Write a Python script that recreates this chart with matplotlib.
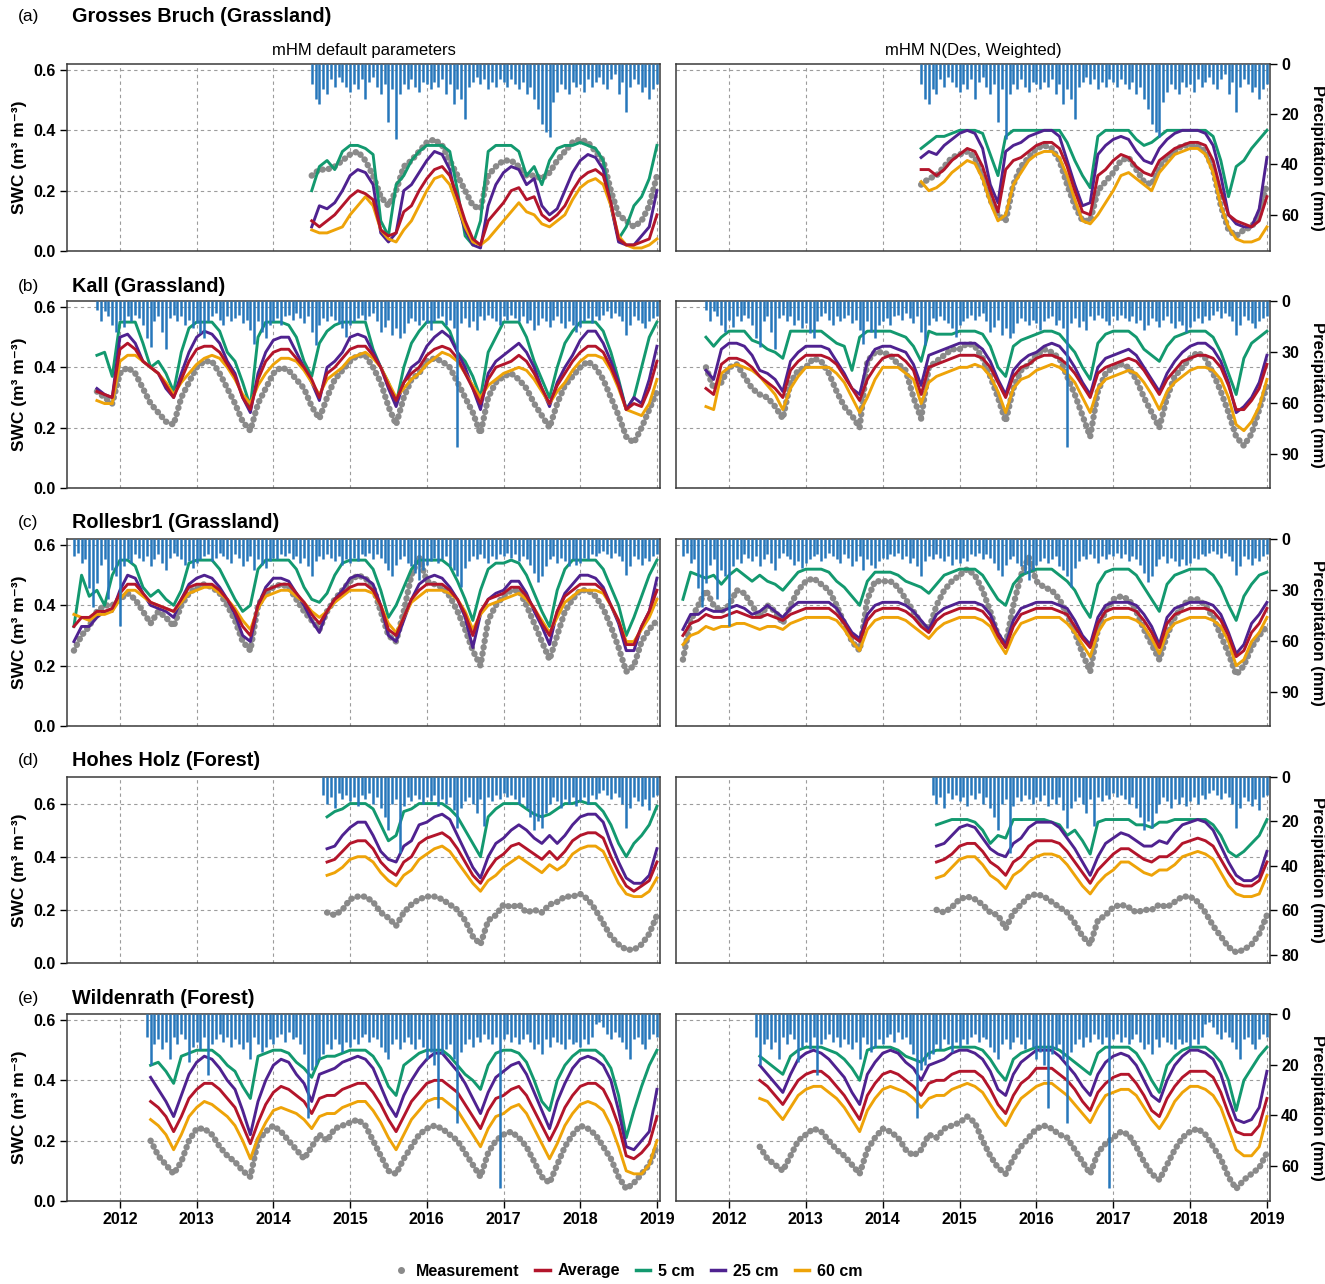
import numpy as np
import matplotlib
matplotlib.use("Agg")
import matplotlib.pyplot as plt
from matplotlib.lines import Line2D
from matplotlib.ticker import FormatStrFormatter
from matplotlib import font_manager as fm

# ------------------------------------------------------------------ DATA
# common x (decimal years); model/measurement series sampled every 0.1 yr,
# precipitation every 0.05 yr, starting at the given start year.
year_ticks = [2012, 2013, 2014, 2015, 2016, 2017, 2018, 2019]
col_titles = ["mHM default parameters", "mHM N(Des, Weighted)"]
row_tags = ["(a)", "(b)", "(c)", "(d)", "(e)"]
row_titles = ["Grosses Bruch (Grassland)", "Kall (Grassland)", "Rollesbr1 (Grassland)",
              "Hohes Holz (Forest)", "Wildenrath (Forest)"]
legend_labels = ["Measurement", "Average", "5 cm", "25 cm", "60 cm"]

# ---- (a) Grosses Bruch, series start 2014.5
a_start = 2014.5
aL_meas = [.25,.27,.27,.28,.30, .32,.33,.30,.25,.18,.15,.20,.28,.30,.33, .36,.37,.35,.30,.25,.20,.15,.14,.25,.28,
           .30,.30,.28,.25,.25,.24,.26,.30,.33,.36, .37,.36,.33,.30,.20,.12,.10,.08,.10,.15, .25]
aL_5 = [.20,.28,.30,.27,.33, .35,.35,.34,.32,.10,.05,.22,.25,.30,.33, .35,.35,.35,.33,.20,.05,.02,.10,.33,.35,
        .35,.35,.33,.25,.28,.22,.30,.34,.35,.35, .36,.35,.34,.30,.15,.04,.08,.15,.18,.24, .35]
aL_25 = [.08,.15,.14,.16,.20, .25,.27,.26,.22,.06,.03,.06,.20,.22,.26, .30,.33,.32,.27,.15,.07,.02,.01,.15,.22,
         .26,.28,.27,.22,.24,.15,.12,.14,.20,.26, .30,.32,.31,.27,.15,.03,.02,.02,.05,.08, .20]
aL_avg = [.10,.08,.10,.12,.15, .18,.20,.19,.17,.07,.05,.06,.13,.15,.20, .24,.27,.28,.25,.18,.10,.04,.02,.10,.13,
          .16,.20,.21,.17,.18,.12,.10,.12,.15,.20, .24,.26,.27,.25,.16,.04,.02,.02,.03,.04, .12]
aL_60 = [.07,.06,.06,.07,.08, .12,.15,.18,.15,.07,.04,.03,.07,.10,.15, .20,.24,.25,.22,.15,.08,.03,.02,.04,.07,
         .10,.13,.16,.13,.12,.09,.08,.10,.12,.17, .21,.23,.24,.22,.15,.05,.02,.01,.01,.02, .04]
aR_meas = [.22,.24,.25,.28,.31, .32,.33,.31,.25,.17,.12,.10,.22,.28,.31, .34,.35,.34,.30,.22,.15,.10,.10,.20,.23,
           .26,.30,.31,.27,.23,.22,.28,.31,.33,.35, .35,.35,.33,.27,.15,.07,.05,.07,.08,.12, .22]
aR_5 = [.34,.36,.38,.38,.39, .40,.40,.40,.39,.32,.25,.38,.40,.40,.40, .40,.40,.40,.40,.36,.30,.25,.21,.38,.40,
        .40,.40,.40,.37,.35,.36,.38,.40,.40,.40, .40,.40,.40,.38,.30,.18,.28,.30,.34,.37, .40]
aR_25 = [.31,.33,.32,.35,.37, .39,.40,.39,.34,.22,.16,.33,.35,.36,.38, .39,.40,.40,.38,.30,.22,.15,.16,.32,.35,
         .37,.38,.37,.33,.30,.29,.34,.37,.39,.40, .40,.40,.39,.35,.25,.12,.09,.08,.08,.14, .31]
aR_avg = [.27,.27,.25,.27,.30, .32,.34,.33,.28,.20,.13,.27,.30,.31,.33, .35,.36,.36,.34,.28,.20,.13,.12,.25,.27,
          .30,.32,.31,.28,.26,.25,.30,.32,.34,.35, .36,.36,.35,.30,.20,.12,.10,.09,.08,.10, .18]
aR_60 = [.23,.20,.21,.23,.26, .28,.30,.29,.24,.16,.10,.12,.22,.26,.30, .32,.33,.33,.31,.25,.17,.10,.09,.12,.16,
         .20,.25,.26,.24,.22,.20,.26,.29,.32,.33, .34,.34,.32,.26,.15,.08,.04,.03,.03,.04, .08]
a_pstart = 2014.5
a_precip = [8,14,16,10,12,6,9,5,7,9,
            11,8,10,6,14,7,5,9,12,8,23,10,30,12,8,10,6,9,11,7,
            8,10,7,9,6,12,8,16,10,14,22,9,7,5,8,6,10,7,9,6,
            7,9,6,8,10,7,12,9,14,18,24,27,29,15,11,8,10,12,7,9,
            8,11,6,9,7,5,8,10,6,4,12,7,19,9,6,8,11,9,14,10,
            8]

# ---- (b) Kall, series start 2011.7
b_start = 2011.7
bL_meas = [.32,.30,.28, .38,.40,.38,.33,.28,.25,.22,.21,.30,.35, .40,.42,.42,.38,.33,.28,.22,.19,.28,.33,
           .38,.40,.39,.36,.33,.27,.23,.30,.36,.39, .42,.44,.44,.40,.35,.27,.21,.30,.36,.38,
           .42,.43,.42,.40,.35,.30,.25,.18,.30,.35, .37,.38,.36,.33,.28,.24,.20,.28,.34,.37,
           .40,.42,.40,.36,.30,.24,.17,.15,.20,.26, .32]
bL_5 = [.44,.45,.37, .55,.55,.55,.48,.40,.42,.38,.32,.45,.53, .55,.55,.55,.52,.45,.42,.35,.27,.50,.55,
        .55,.55,.54,.50,.42,.37,.48,.52,.54,.55, .55,.55,.55,.46,.40,.35,.28,.40,.48,.52,
        .55,.55,.55,.52,.45,.42,.37,.30,.45,.50, .55,.55,.55,.50,.42,.36,.30,.40,.48,.52,
        .55,.55,.55,.52,.45,.36,.26,.30,.40,.50, .55]
bL_25 = [.33,.31,.30, .50,.51,.48,.42,.40,.38,.33,.30,.38,.45, .50,.52,.51,.48,.42,.38,.30,.25,.38,.45,
         .49,.50,.50,.45,.40,.35,.29,.40,.42,.45, .50,.51,.50,.45,.40,.33,.27,.35,.40,.42,
         .47,.50,.52,.50,.45,.40,.33,.26,.38,.42, .44,.46,.48,.45,.40,.33,.27,.35,.40,.44,
         .49,.52,.52,.48,.42,.35,.26,.30,.28,.36, .47]
bL_avg = [.32,.31,.30, .46,.48,.46,.42,.40,.38,.34,.30,.36,.42, .46,.47,.47,.45,.41,.37,.30,.26,.36,.42,
          .45,.46,.46,.43,.40,.36,.30,.38,.40,.43, .46,.47,.47,.44,.40,.34,.29,.35,.38,.40,
          .44,.46,.47,.46,.43,.38,.33,.28,.36,.40, .41,.42,.44,.42,.38,.33,.28,.34,.38,.42,
          .45,.47,.47,.45,.40,.34,.26,.28,.27,.33, .42]
bL_60 = [.29,.28,.28, .42,.44,.44,.42,.40,.38,.35,.31,.35,.38, .41,.43,.44,.43,.40,.36,.31,.28,.34,.38,
         .41,.43,.43,.42,.39,.35,.31,.36,.38,.40, .43,.44,.45,.43,.40,.35,.30,.33,.36,.38,
         .41,.43,.45,.44,.42,.38,.34,.30,.34,.36, .38,.39,.40,.39,.36,.32,.28,.32,.35,.39,
         .42,.44,.44,.43,.39,.33,.26,.25,.24,.28, .36]
bR_meas = [.40,.33,.35, .40,.41,.37,.33,.31,.30,.27,.23,.35,.39, .40,.43,.42,.38,.32,.27,.24,.20,.42,.45,
           .45,.44,.41,.39,.30,.23,.40,.42,.44,.46, .46,.48,.47,.43,.37,.30,.22,.33,.39,.41,
           .44,.46,.45,.43,.37,.31,.24,.17,.32,.38, .40,.41,.40,.36,.30,.25,.20,.30,.37,.40,
           .43,.45,.43,.38,.32,.25,.17,.14,.18,.26, .34]
bR_5 = [.50,.47,.50, .52,.52,.52,.49,.48,.46,.45,.43,.52,.52, .52,.52,.52,.50,.48,.47,.39,.50,.52,.52,
        .52,.52,.51,.50,.47,.42,.52,.51,.51,.51, .52,.52,.52,.51,.47,.40,.37,.47,.49,.50,
        .51,.52,.52,.51,.48,.45,.40,.36,.48,.51, .52,.52,.52,.50,.46,.44,.42,.47,.50,.51,
        .52,.52,.52,.50,.45,.38,.31,.43,.48,.50, .52]
bR_25 = [.39,.36,.46, .48,.48,.47,.44,.39,.38,.36,.32,.42,.45, .47,.47,.47,.46,.42,.38,.33,.31,.42,.46,
         .47,.47,.46,.45,.41,.34,.44,.45,.46,.47, .48,.48,.48,.46,.42,.36,.31,.39,.42,.44,
         .45,.47,.48,.47,.44,.40,.35,.31,.40,.43, .44,.45,.46,.44,.40,.36,.32,.38,.42,.45,
         .47,.48,.48,.46,.42,.35,.25,.27,.30,.35, .44]
bR_avg = [.33,.31,.41, .43,.43,.42,.40,.37,.35,.33,.30,.39,.42, .44,.44,.44,.43,.41,.37,.33,.29,.36,.40,
          .43,.44,.44,.42,.39,.31,.40,.41,.42,.43, .44,.44,.44,.43,.40,.35,.30,.37,.40,.41,
          .43,.44,.44,.43,.41,.38,.34,.30,.38,.40, .41,.42,.43,.42,.39,.35,.31,.36,.39,.42,
          .43,.44,.44,.43,.40,.34,.26,.26,.29,.33, .41]
bR_60 = [.27,.26,.38, .40,.41,.40,.39,.37,.34,.31,.26,.33,.37, .40,.40,.40,.40,.38,.35,.30,.25,.30,.36,
         .40,.40,.40,.38,.36,.28,.35,.37,.38,.39, .40,.40,.41,.40,.37,.32,.25,.33,.36,.37,
         .39,.40,.41,.40,.38,.35,.30,.25,.33,.36, .37,.38,.39,.38,.35,.31,.26,.32,.35,.37,
         .39,.40,.40,.39,.36,.30,.21,.19,.22,.27, .36]
b_pstart = 2011.7
b_precip = [5,12,6,9,14,18,
            11,15,9,12,8,10,14,22,27,12,9,18,28,10,8,12,9,14,11,16,
            13,19,22,12,9,7,11,14,9,12,10,8,13,11,17,25,12,18,22,14,
            12,10,14,9,8,11,7,10,13,9,18,26,14,10,12,9,11,13,16,21,
            14,12,10,8,11,9,7,12,18,15,11,20,16,22,19,13,10,12,14,11,
            13,17,12,10,9,14,11,16,86,13,10,15,12,17,9,11,8,10,12,14,
            9,11,8,10,12,9,13,11,17,14,10,12,15,11,9,13,16,12,14,18,
            15,12,10,13,9,11,8,6,10,7,9,12,20,14,9,11,13,16,12,10,
            9]

# ---- (c) Rollesbr1, series start 2011.4
c_start = 2011.4
cL_meas = [.25,.30,.33,.38,.40,.40, .42,.44,.42,.38,.34,.38,.36,.33,.40,.44, .46,.47,.46,.44,.40,.35,.28,.25,.40,.44,
           .46,.47,.46,.42,.38,.35,.32,.38,.42,.45, .48,.50,.49,.46,.38,.30,.28,.38,.50,.56,
           .48,.47,.46,.43,.38,.32,.25,.20,.35,.40, .43,.45,.45,.40,.34,.28,.22,.30,.38,.42,
           .45,.45,.43,.39,.33,.26,.18,.20,.28,.32, .35]
cL_5 = [.33,.50,.43,.45,.40,.50, .55,.55,.53,.46,.43,.45,.42,.40,.45,.54, .55,.55,.55,.52,.47,.42,.38,.40,.52,.55,
        .55,.55,.55,.52,.46,.42,.41,.44,.50,.54, .55,.55,.55,.52,.45,.36,.40,.46,.52,.55,
        .55,.55,.55,.53,.48,.42,.35,.45,.52,.54, .54,.55,.54,.50,.44,.38,.33,.45,.52,.55,
        .55,.55,.55,.52,.46,.40,.30,.36,.43,.50, .55]
cL_25 = [.28,.33,.33,.36,.38,.38, .45,.50,.49,.44,.40,.39,.38,.36,.42,.47, .49,.50,.49,.46,.42,.37,.30,.28,.40,.46,
         .49,.49,.48,.44,.40,.35,.31,.38,.42,.45, .49,.50,.49,.47,.40,.30,.28,.35,.42,.47,
         .49,.50,.49,.46,.42,.36,.26,.37,.42,.44, .45,.48,.48,.44,.38,.33,.27,.38,.44,.47,
         .50,.50,.49,.46,.40,.34,.25,.25,.33,.38, .49]
cL_avg = [.33,.36,.36,.38,.38,.39, .44,.47,.47,.44,.41,.40,.39,.38,.42,.46, .47,.47,.47,.45,.42,.38,.33,.30,.40,.45,
          .46,.47,.47,.44,.41,.37,.34,.38,.42,.44, .46,.47,.47,.45,.40,.32,.30,.36,.42,.45,
          .47,.47,.47,.45,.42,.37,.30,.38,.42,.43, .44,.46,.46,.43,.39,.34,.30,.38,.43,.45,
          .47,.47,.47,.45,.40,.35,.27,.27,.33,.38, .45]
cL_60 = [.37,.36,.35,.37,.37,.38, .42,.45,.45,.43,.41,.40,.39,.38,.41,.44, .45,.46,.46,.44,.42,.39,.35,.32,.39,.43,
         .44,.45,.45,.43,.41,.38,.36,.38,.41,.43, .45,.45,.45,.44,.40,.34,.31,.36,.41,.43,
         .45,.45,.45,.44,.42,.38,.32,.37,.40,.41, .42,.43,.44,.42,.39,.35,.31,.36,.41,.43,
         .45,.45,.45,.44,.40,.35,.28,.28,.32,.36, .42]
cR_meas = [.22,.35,.40,.45,.40,.38, .40,.45,.44,.40,.36,.40,.38,.34,.40,.45, .48,.49,.47,.45,.40,.34,.28,.25,.42,.48,
           .48,.48,.46,.42,.38,.34,.32,.40,.45,.48, .50,.52,.50,.45,.38,.30,.27,.40,.50,.56,
           .48,.46,.45,.42,.37,.31,.24,.18,.32,.38, .42,.43,.42,.38,.32,.27,.22,.30,.36,.40,
           .42,.42,.40,.36,.30,.24,.17,.20,.26,.30, .33]
cR_5 = [.42,.51,.50,.49,.50,.47, .50,.52,.50,.48,.50,.48,.47,.45,.48,.51, .52,.52,.52,.51,.48,.46,.43,.40,.48,.51,
        .51,.51,.50,.48,.47,.46,.44,.47,.50,.51, .52,.52,.52,.50,.46,.42,.40,.47,.50,.51,
        .52,.52,.52,.50,.48,.45,.40,.36,.47,.51, .52,.52,.52,.50,.46,.42,.38,.47,.50,.51,
        .52,.52,.52,.50,.46,.40,.35,.43,.47,.50, .51]
cR_25 = [.32,.37,.37,.39,.38,.38, .39,.40,.39,.37,.38,.40,.38,.36,.39,.41, .41,.41,.41,.41,.39,.35,.31,.29,.37,.40,
         .41,.41,.41,.40,.38,.35,.32,.37,.39,.40, .41,.41,.41,.40,.37,.31,.27,.35,.39,.40,
         .41,.41,.41,.40,.39,.35,.30,.27,.36,.40, .41,.41,.41,.40,.37,.33,.27,.36,.39,.40,
         .41,.41,.41,.40,.37,.31,.24,.27,.34,.37, .41]
cR_avg = [.30,.34,.35,.37,.36,.36, .37,.38,.37,.36,.36,.37,.36,.35,.37,.38, .39,.39,.39,.39,.37,.34,.30,.28,.35,.38,
          .39,.39,.39,.38,.36,.33,.31,.35,.37,.38, .39,.39,.39,.38,.35,.30,.26,.33,.37,.38,
          .39,.39,.39,.38,.37,.33,.29,.26,.34,.38, .39,.39,.39,.38,.35,.31,.26,.34,.37,.38,
          .39,.39,.39,.38,.35,.30,.23,.25,.31,.34, .39]
cR_60 = [.27,.30,.31,.33,.32,.33, .33,.34,.34,.33,.32,.33,.33,.32,.34,.35, .36,.36,.36,.36,.35,.32,.28,.25,.32,.35,
         .36,.36,.36,.35,.33,.31,.29,.32,.34,.35, .36,.36,.36,.35,.33,.28,.24,.30,.34,.35,
         .36,.36,.36,.36,.34,.31,.27,.23,.31,.35, .36,.36,.36,.35,.33,.29,.24,.31,.34,.35,
         .36,.36,.36,.35,.33,.28,.20,.22,.28,.31, .36]
c_pstart = 2011.4
c_precip = [10,8,14,12,29,40,26,15,12,35,18,22,
            51,16,12,14,9,11,13,10,16,12,9,14,18,11,8,10,12,15,13,17,
            14,12,10,9,13,11,8,10,12,14,9,11,16,13,10,18,12,15,17,13,
            11,12,9,10,8,12,10,14,11,16,22,13,10,12,9,11,13,10,15,12,
            14,11,13,9,10,8,12,9,11,14,18,22,15,12,10,14,16,20,24,18,
            15,13,11,14,12,10,16,18,22,28,17,13,10,12,9,11,14,10,12,9,
            10,8,11,9,13,10,12,15,20,25,22,16,12,10,14,11,13,16,12,15,
            14,11,12,9,10,8,7,9,11,8,10,13,21,16,10,12,15,11,13,10,
            9]

# ---- (d) Hohes Holz, series start 2014.7
d_start = 2014.7
dL_meas = [.19,.18,.20, .24,.25,.25,.23,.19,.17,.14,.19,.22,.24, .25,.25,.24,.22,.20,.16,.10,.07,.16,.18,
           .22,.21,.22,.19,.20,.19,.22,.23,.25,.25, .26,.24,.20,.15,.10,.07,.05,.05,.07,.11, .18]
dL_5 = [.55,.57,.58, .60,.60,.60,.58,.52,.46,.48,.57,.58,.60, .60,.60,.60,.58,.55,.50,.45,.40,.55,.58,
        .60,.60,.60,.58,.56,.55,.56,.58,.60,.60, .61,.60,.60,.57,.52,.45,.40,.45,.48,.52, .59]
dL_25 = [.43,.44,.48, .51,.53,.53,.48,.42,.39,.38,.44,.46,.52, .53,.55,.56,.54,.48,.42,.36,.32,.40,.45,
         .47,.50,.52,.50,.47,.45,.48,.45,.48,.52, .55,.56,.56,.53,.45,.38,.32,.30,.30,.33, .43]
dL_avg = [.38,.39,.42, .45,.46,.46,.43,.38,.35,.33,.38,.40,.45, .47,.48,.49,.47,.43,.38,.33,.30,.35,.39,
          .41,.44,.45,.43,.41,.39,.42,.39,.42,.46, .48,.49,.49,.47,.40,.34,.29,.27,.29,.31, .38]
dL_60 = [.33,.34,.36, .39,.40,.40,.38,.34,.31,.29,.33,.35,.39, .41,.43,.44,.42,.38,.34,.30,.27,.31,.33,
         .36,.38,.40,.38,.36,.34,.37,.35,.37,.41, .43,.44,.44,.42,.36,.30,.26,.25,.25,.27, .32]
dR_meas = [.20,.19,.21, .24,.25,.24,.22,.19,.18,.13,.19,.22,.25, .26,.25,.23,.21,.19,.15,.10,.07,.16,.18,
           .21,.22,.21,.19,.20,.20,.22,.21,.23,.25, .25,.23,.19,.14,.10,.06,.04,.05,.07,.11, .18]
dR_5 = [.52,.53,.54, .54,.54,.53,.50,.45,.48,.47,.54,.54,.54, .54,.54,.53,.52,.48,.50,.46,.41,.53,.54,
        .54,.54,.54,.52,.52,.51,.53,.53,.54,.54, .54,.54,.54,.52,.48,.42,.40,.42,.45,.48, .54]
dR_25 = [.44,.45,.48, .51,.52,.51,.47,.43,.41,.40,.45,.47,.51, .53,.53,.53,.51,.47,.43,.38,.33,.40,.45,
         .47,.49,.48,.46,.44,.44,.46,.45,.49,.52, .53,.54,.53,.50,.44,.38,.33,.31,.31,.33, .42]
dR_avg = [.38,.39,.41, .44,.45,.45,.42,.38,.36,.33,.38,.40,.44, .46,.46,.46,.45,.42,.38,.34,.30,.35,.38,
          .41,.43,.43,.41,.39,.38,.40,.40,.42,.45, .46,.47,.46,.44,.39,.34,.30,.29,.29,.31, .38]
dR_60 = [.32,.33,.36, .39,.40,.40,.37,.33,.31,.28,.33,.35,.38, .40,.41,.41,.40,.37,.33,.29,.26,.30,.33,
         .35,.38,.38,.36,.34,.33,.35,.35,.37,.40, .41,.42,.41,.39,.34,.29,.26,.25,.25,.26, .33]
d_pstart = 2014.65
d_precip = [8,12,9,14,7,10,8,
            11,9,13,8,10,7,12,9,14,18,24,12,10,34,13,9,11,8,10,12,
            9,11,8,13,10,12,9,15,23,14,11,9,12,16,10,22,9,11,8,10,
            7,9,8,10,12,9,14,18,24,20,23,16,12,9,11,14,10,12,9,13,
            11,9,12,8,10,7,6,8,10,7,9,12,23,14,9,11,13,10,15,9,
            8]

# ---- (e) Wildenrath, series start 2012.4
e_start = 2012.4
eL_meas = [.20,.15,.12,.09,.13,.20, .24,.24,.22,.18,.15,.13,.10,.08,.20,.23, .25,.23,.20,.17,.14,.18,.22,.20,.24,.25,
           .26,.27,.25,.20,.15,.10,.09,.14,.18,.22, .24,.25,.24,.22,.20,.16,.12,.08,.16,.20,
           .22,.23,.21,.18,.13,.08,.06,.12,.18,.22, .25,.24,.22,.18,.14,.08,.04,.06,.09,.12, .18]
eL_5 = [.45,.46,.43,.39,.48,.49, .50,.50,.50,.48,.45,.43,.38,.34,.48,.49, .50,.50,.49,.46,.44,.41,.47,.48,.48,.49,
        .50,.50,.50,.48,.44,.38,.35,.45,.47,.49, .50,.50,.50,.48,.45,.42,.40,.37,.45,.49,
        .50,.50,.49,.46,.40,.33,.30,.40,.45,.48, .50,.50,.50,.48,.44,.35,.21,.30,.38,.45, .50]
eL_25 = [.41,.37,.33,.28,.35,.42, .46,.48,.47,.44,.40,.37,.30,.22,.33,.40, .45,.47,.46,.42,.39,.33,.42,.43,.44,.46,
         .47,.48,.47,.44,.38,.32,.28,.35,.40,.44, .47,.49,.49,.46,.43,.39,.34,.29,.36,.41,
         .43,.45,.46,.42,.36,.30,.24,.33,.39,.44, .47,.48,.47,.45,.40,.30,.18,.17,.20,.23, .37]
eL_avg = [.33,.31,.28,.23,.28,.34, .37,.39,.39,.37,.34,.31,.25,.19,.26,.32, .36,.38,.37,.35,.33,.29,.34,.35,.35,.37,
          .38,.39,.39,.36,.32,.27,.23,.28,.33,.36, .39,.40,.40,.38,.36,.32,.28,.24,.30,.34,
          .35,.37,.38,.35,.30,.25,.20,.25,.31,.35, .38,.39,.39,.37,.32,.25,.15,.14,.16,.19, .28]
eL_60 = [.27,.25,.22,.17,.22,.28, .31,.33,.32,.30,.28,.25,.20,.14,.21,.26, .30,.31,.30,.29,.27,.24,.28,.29,.29,.31,
         .32,.33,.33,.30,.26,.21,.17,.22,.27,.30, .33,.34,.34,.32,.30,.26,.22,.18,.24,.28,
         .29,.31,.32,.29,.24,.19,.14,.19,.25,.29, .32,.33,.32,.30,.25,.18,.10,.09,.09,.12, .20]
eR_meas = [.18,.14,.12,.10,.15,.20, .22,.24,.23,.20,.17,.15,.12,.09,.17,.21, .24,.23,.21,.17,.15,.17,.22,.21,.24,.25,
           .26,.28,.26,.20,.15,.11,.09,.14,.18,.21, .24,.25,.24,.22,.21,.17,.13,.09,.16,.19,
           .21,.23,.22,.18,.13,.09,.07,.12,.17,.21, .23,.24,.22,.18,.14,.08,.04,.07,.09,.11, .16]
eR_5 = [.48,.46,.44,.42,.48,.50, .51,.51,.51,.50,.49,.47,.44,.40,.50,.51, .51,.51,.50,.48,.47,.46,.49,.50,.50,.51,
        .51,.51,.51,.50,.47,.43,.40,.47,.49,.50, .51,.51,.51,.50,.48,.46,.44,.42,.49,.51,
        .51,.51,.51,.49,.45,.40,.36,.45,.48,.50, .51,.51,.51,.49,.46,.40,.30,.40,.44,.48, .51]
eR_25 = [.45,.42,.39,.36,.42,.47, .49,.50,.49,.47,.44,.41,.36,.32,.42,.46, .49,.50,.49,.46,.44,.40,.45,.46,.47,.49,
         .50,.50,.49,.47,.43,.37,.35,.42,.46,.48, .50,.50,.50,.48,.45,.42,.38,.35,.42,.46,
         .48,.49,.48,.45,.40,.35,.33,.40,.45,.48, .50,.50,.49,.47,.42,.34,.27,.26,.27,.31, .43]
eR_avg = [.40,.38,.35,.32,.36,.40, .42,.43,.43,.41,.38,.35,.31,.27,.35,.39, .42,.43,.42,.40,.38,.35,.39,.40,.40,.42,
          .43,.43,.43,.41,.37,.32,.29,.35,.39,.41, .44,.44,.44,.42,.40,.37,.33,.30,.36,.39,
          .41,.42,.42,.39,.35,.30,.28,.34,.38,.41, .43,.43,.43,.41,.36,.29,.23,.22,.22,.25, .34]
eR_60 = [.34,.33,.30,.27,.31,.35, .37,.38,.38,.36,.34,.31,.27,.23,.30,.34, .37,.38,.37,.36,.34,.31,.34,.35,.35,.37,
         .38,.39,.38,.36,.32,.28,.25,.30,.34,.36, .38,.39,.39,.37,.35,.32,.29,.26,.31,.35,
         .36,.37,.37,.35,.31,.27,.24,.28,.33,.36, .38,.38,.37,.35,.31,.24,.17,.15,.15,.18, .28]
e_pstart = 2012.35
e_precip = [9,20,12,10,14,11,18,9,12,8,10,19,13,
            11,14,9,24,12,10,8,11,9,13,10,12,14,11,18,9,12,15,13,10,
            12,9,8,11,7,10,9,12,16,41,22,20,18,16,12,14,10,12,15,11,
            13,10,12,9,8,11,9,10,13,15,18,12,10,14,11,9,12,14,10,13,
            18,15,20,37,16,14,12,18,43,15,12,10,13,9,11,8,10,12,9,69,
            10,8,11,9,12,10,8,11,14,12,16,10,13,9,11,12,14,10,12,11,
            13,10,12,9,4,3,5,8,10,7,9,11,14,18,10,9,12,14,10,8,
            9]

# ------------------------------------------------------------------ STYLE
names = {f.name for f in fm.fontManager.ttflist}
NARROW = "Liberation Sans Narrow" in names
plt.rcParams["font.family"] = (["Liberation Sans Narrow"] if NARROW else []) + ["Liberation Sans", "DejaVu Sans"]
k = 1.12 if NARROW else 1.0
FS_TICK = 11.5 * k
FS_SWC = 12.5 * k
FS_PR = 12 * k
FS_TITLE = 14.3 * k
FS_TAG = 12.5 * k
FS_COL = 12 * k

C_MEAS = "#8a8a8a"
C_AVG = "#b3152b"
C_5 = "#13996f"
C_25 = "#4f2290"
C_60 = "#eea308"
C_P = "#2677bb"

W, H = 1325, 1284
fig = plt.figure(figsize=(W / 100, H / 100), dpi=100)

cols_px = [(67, 660), (676, 1270)]
rows_px = [(64, 251), (301, 488), (539, 726), (777, 963), (1014, 1201)]
tag_y = [17, 286, 523, 761, 998]

rows = [
    dict(start=a_start, L=(aL_meas, aL_5, aL_25, aL_avg, aL_60), R=(aR_meas, aR_5, aR_25, aR_avg, aR_60),
         pstart=a_pstart, precip=a_precip, pmax=74.5, pticks=[0, 20, 40, 60], ymax=0.62),
    dict(start=b_start, L=(bL_meas, bL_5, bL_25, bL_avg, bL_60), R=(bR_meas, bR_5, bR_25, bR_avg, bR_60),
         pstart=b_pstart, precip=b_precip, pmax=110, pticks=[0, 30, 60, 90], ymax=0.62),
    dict(start=c_start, L=(cL_meas, cL_5, cL_25, cL_avg, cL_60), R=(cR_meas, cR_5, cR_25, cR_avg, cR_60),
         pstart=c_pstart, precip=c_precip, pmax=110, pticks=[0, 30, 60, 90], ymax=0.62),
    dict(start=d_start, L=(dL_meas, dL_5, dL_25, dL_avg, dL_60), R=(dR_meas, dR_5, dR_25, dR_avg, dR_60),
         pstart=d_pstart, precip=d_precip, pmax=83.6, pticks=[0, 20, 40, 60, 80], ymax=0.70),
    dict(start=e_start, L=(eL_meas, eL_5, eL_25, eL_avg, eL_60), R=(eR_meas, eR_5, eR_25, eR_avg, eR_60),
         pstart=e_pstart, precip=e_precip, pmax=74, pticks=[0, 20, 40, 60], ymax=0.62),
]


def tgrid(start, vals, step):
    return start + step * np.arange(len(vals))


for ri, row in enumerate(rows):
    top, bot = rows_px[ri]
    for ci in range(2):
        x0, x1 = cols_px[ci]
        ax = fig.add_axes([x0 / W, 1 - bot / H, (x1 - x0) / W, (bot - top) / H])
        axp = ax.twinx()  # precipitation axis (created first so tick settings below stick)

        meas, s5, s25, avg, s60 = row["L"] if ci == 0 else row["R"]
        ax.plot(tgrid(row["start"], meas, 0.1), meas, color=C_MEAS, lw=4.6,
                ls=(0, (0.05, 0.95)), dash_capstyle="round", zorder=2)
        ax.plot(tgrid(row["start"], s5, 0.1), s5, color=C_5, lw=2.1, zorder=3)
        ax.plot(tgrid(row["start"], s25, 0.1), s25, color=C_25, lw=2.1, zorder=3)
        ax.plot(tgrid(row["start"], s60, 0.1), s60, color=C_60, lw=2.1, zorder=3)
        ax.plot(tgrid(row["start"], avg, 0.1), avg, color=C_AVG, lw=2.1, zorder=4)
        ax.set_xlim(2011.31, 2019.04)
        ax.set_ylim(0, row["ymax"])
        ax.set_xticks(year_ticks)
        ax.set_yticks([0.0, 0.2, 0.4, 0.6])
        ax.yaxis.set_major_formatter(FormatStrFormatter("%.1f"))
        ax.grid(True, ls=(0, (3, 3)), color="#9c9c9c", lw=0.8)
        ax.set_axisbelow(True)
        for sp in ax.spines.values():
            sp.set_color("#3a3a3a")
            sp.set_linewidth(1.1)
        if ri == 4:
            ax.tick_params(axis="x", length=5, width=1, labelsize=FS_TICK, pad=3)
            for lab in ax.get_xticklabels():
                lab.set_fontweight("bold")
        else:
            ax.tick_params(axis="x", length=0, labelbottom=False)
        if ci == 0:
            ax.tick_params(axis="y", left=True, right=False, length=5, width=1, labelsize=FS_TICK, pad=3)
            for lab in ax.get_yticklabels():
                lab.set_fontweight("bold")
            ax.set_ylabel("SWC (m\u00b3 m\u207b\u00b3)", fontsize=FS_SWC, fontweight="bold", labelpad=5)
        else:
            ax.tick_params(axis="y", which="both", left=False, right=False,
                           labelleft=False, labelright=False)

        tp = tgrid(row["pstart"], row["precip"], 0.05)
        axp.vlines(tp, 0, row["precip"], color=C_P, lw=1.8, zorder=5)
        axp.set_ylim(row["pmax"], 0)
        axp.set_xlim(2011.31, 2019.04)
        for sp in axp.spines.values():
            sp.set_visible(False)
        axp.tick_params(axis="x", length=0, labelbottom=False)
        if ci == 1:
            axp.set_yticks(row["pticks"])
            axp.tick_params(axis="y", left=False, right=True, length=5, width=1,
                            labelsize=FS_TICK, pad=3)
            for lab in axp.get_yticklabels():
                lab.set_fontweight("bold")
            axp.set_ylabel("Precipitation (mm)", rotation=270, va="bottom",
                           fontsize=FS_PR, fontweight="bold", labelpad=8)
        else:
            axp.tick_params(axis="y", left=False, right=False, labelleft=False, labelright=False)

        if ri == 0:
            fig.text((x0 + x1) / 2 / W, 1 - 50 / H, col_titles[ci], ha="center", va="center",
                     fontsize=FS_COL)

    fig.text(18 / W, 1 - tag_y[ri] / H, row_tags[ri], ha="left", va="center", fontsize=FS_TAG)
    fig.text(72 / W, 1 - tag_y[ri] / H, row_titles[ri], ha="left", va="center",
             fontsize=FS_TITLE, fontweight="bold")

handles = [
    Line2D([], [], ls="none", marker="o", markersize=4, color=C_MEAS),
    Line2D([], [], color=C_AVG, lw=2.5),
    Line2D([], [], color=C_5, lw=2.5),
    Line2D([], [], color=C_25, lw=2.5),
    Line2D([], [], color=C_60, lw=2.5),
]
fig.legend(handles, legend_labels, loc="center", bbox_to_anchor=(628 / W, 1 - 1271 / H), ncol=5,
           frameon=False, prop=dict(weight="bold", size=FS_TICK), handlelength=0.9,
           handletextpad=0.5, columnspacing=1.0)

fig.savefig("out.png", dpi=100)
